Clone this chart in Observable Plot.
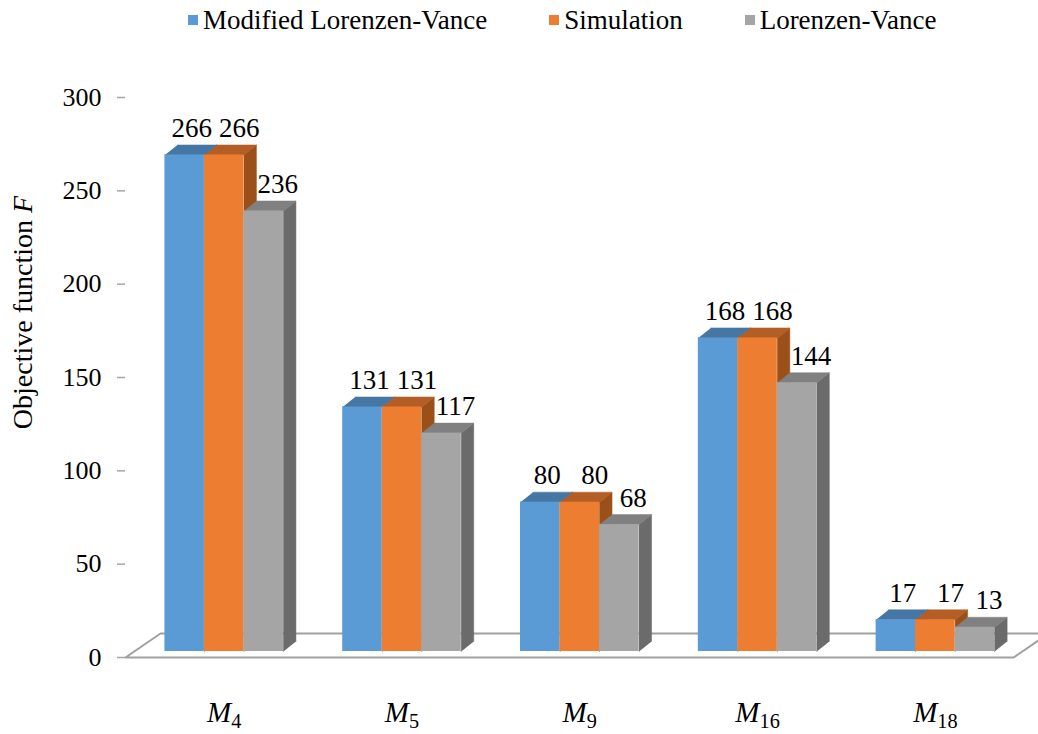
<!DOCTYPE html>
<html>
<head>
<meta charset="utf-8">
<script src="https://cdn.jsdelivr.net/npm/d3@7"></script>
<script src="https://cdn.jsdelivr.net/npm/@observablehq/plot@0.6"></script>
<style>
html, body { margin: 0; padding: 0; background: #fff; overflow: hidden; width: 1038px; height: 734px; }
#legend div {
  display: flex !important; align-items: center !important; justify-content: flex-start !important;
  height: 40px !important; min-height: 0 !important; margin: 0 !important; padding: 0 0 0 188px !important;
  font-family: "Liberation Serif", "Times New Roman", serif !important; font-size: 27px !important; color: #000 !important;
  flex-wrap: nowrap !important;
}
#legend span { display: inline-flex !important; align-items: center !important; margin-right: 62px !important; }
#legend span svg { width: 10px !important; height: 10px !important; margin-right: 5px !important; }
#chart svg { display: block; }
</style>
</head>
<body>
<div id="legend"></div>
<div id="chart"></div>
<script>
// ---- data ----
const categories = ["M4", "M5", "M9", "M16", "M18"];
const seriesNames = ["Modified Lorenzen-Vance", "Simulation", "Lorenzen-Vance"];
const modifiedLorenzenVance = [266, 131, 80, 168, 17];
const simulation = [266, 131, 80, 168, 17];
const lorenzenVance = [236, 117, 68, 144, 13];
const yTicks = [0, 50, 100, 150, 200, 250, 300];
const yLabel = "Objective function F";

// ---- styles ----
const seriesValues = [modifiedLorenzenVance, simulation, lorenzenVance];
const frontColors = ["#5B9BD5", "#ED7D31", "#A5A5A5"];
const topColors = ["#4676A3", "#B25E24", "#808080"];
const sideColors = ["#3A6690", "#9C5019", "#6B6B6B"];
const labelDx = [7, 15, 14];

// ---- layout ----
const W = 1038, H = 694, ML = 125, MR = 0, MT = 57, MB = 77;
const xLo = -0.555, xHi = 4.58;
const kx = (W - ML - MR) / (xHi - xLo), ky = (H - MT - MB) / 300;
const groupW = 2 / 3, barW = groupW / 3;
const ddx = 12.5 / kx, ddy = 10 / ky;        // bar depth
const fdx = 35 / kx, fdy = 24 / ky, floorEnd = 4.44; // floor depth
const lift = -6;

const rows = [];
seriesNames.forEach((name, s) => categories.forEach((cat, g) => {
  const x1 = g - groupW / 2 + s * barW;
  rows.push({series: name, s, cat, g, value: seriesValues[s][g], x1, x2: x1 + barW, xc: x1 + barW / 2});
}));
const tops = [], sides = [];
rows.forEach((r, i) => {
  [[r.x1, r.value], [r.x2, r.value], [r.x2 + ddx, r.value + ddy], [r.x1 + ddx, r.value + ddy]]
    .forEach(([x, y]) => tops.push({id: i, s: r.s, x, y}));
  [[r.x2, 0], [r.x2, r.value], [r.x2 + ddx, r.value + ddy], [r.x2 + ddx, ddy]]
    .forEach(([x, y]) => sides.push({id: i, s: r.s, x, y}));
});
const floor = [[xLo, 0], [floorEnd, 0], [floorEnd + fdx, fdy], [xLo + fdx, fdy], [xLo, 0]].map(([x, y]) => ({x, y}));

const serif = "'Liberation Serif', 'Times New Roman', serif";

const marks = [
  Plot.line(floor, {x: "x", y: "y", stroke: "#a0a0a0", strokeWidth: 2}),
  Plot.axisY({ticks: yTicks, tickSize: 8, tickPadding: 16, line: true, stroke: "#a6a6a6", strokeWidth: 1.5, fill: "black", fontSize: 26, label: null, tickFormat: d => String(d)}),
  ...seriesNames.map((_, s) => Plot.line(sides.filter(d => d.s === s), {x: "x", y: "y", z: "id", fill: sideColors[s], stroke: sideColors[s], strokeWidth: 0.5, dy: lift})),
  ...seriesNames.map((_, s) => Plot.line(tops.filter(d => d.s === s), {x: "x", y: "y", z: "id", fill: topColors[s], stroke: topColors[s], strokeWidth: 0.5, dy: lift})),
  Plot.rect(rows, {x1: "x1", x2: "x2", y1: 0, y2: "value", fill: "series", dy: lift}),
  ...seriesNames.map((_, s) => Plot.text(rows.filter(d => d.s === s), {x: "xc", y: "value", text: d => String(d.value), dy: lift - 18, dx: labelDx[s], lineAnchor: "bottom", fontSize: 27, fill: "black"})),
  Plot.axisX({ticks: d3.range(categories.length), tickFormat: i => categories[i], tickSize: 0, tickPadding: 44, fontSize: 29, fill: "black", label: null}),
  Plot.text([yLabel], {text: d => d, frameAnchor: "left", textAnchor: "middle", rotate: -90, dx: -102, dy: -65, fontSize: 28, lineAnchor: "middle", fill: "black"})
];

const chart = Plot.plot({
  width: W, height: H,
  marginLeft: ML, marginRight: MR, marginTop: MT, marginBottom: MB,
  x: {type: "linear", domain: [xLo, xHi]},
  y: {domain: [0, 300]},
  color: {domain: seriesNames, range: frontColors},
  style: {fontFamily: serif, fontSize: "25px", background: "white", color: "black"},
  marks
});

// rich text: italic M with subscript, italic F
chart.querySelectorAll("text").forEach(t => {
  const txt = t.textContent;
  const m = txt.match(/^M(\d+)$/);
  if (m) {
    t.innerHTML = `<tspan font-style="italic">M</tspan><tspan font-size="0.7em" dy="0.3em">${m[1]}</tspan>`;
  } else if (txt === yLabel) {
    t.innerHTML = `Objective function <tspan font-style="italic">F</tspan>`;
  }
});

document.getElementById("chart").appendChild(chart);

const legend = Plot.legend({color: {type: "categorical", domain: seriesNames, range: frontColors}, swatchSize: 10});
document.getElementById("legend").appendChild(legend);
</script>
</body>
</html>
